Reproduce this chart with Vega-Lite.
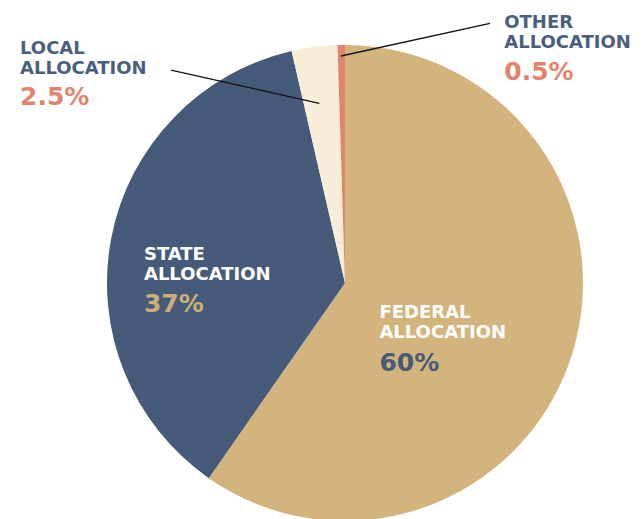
{
  "$schema": "https://vega.github.io/schema/vega-lite/v6.json",
  "width": 476,
  "height": 472,
  "autosize": "none",
  "padding": {"left": 107, "top": 47, "right": 59, "bottom": 0},
  "background": "white",
  "config": {"view": {"stroke": null}},
  "datasets": {
    "alloc": [
      {"cat": "Federal", "idx": 1, "value": 59.7, "name": "FEDERAL\nALLOCATION", "pct": "60%"},
      {"cat": "State", "idx": 2, "value": 36.7, "name": "STATE\nALLOCATION", "pct": "37%"},
      {"cat": "Local", "idx": 3, "value": 3.1, "name": "LOCAL\nALLOCATION", "pct": "2.5%"},
      {"cat": "Other", "idx": 4, "value": 0.5, "name": "OTHER\nALLOCATION", "pct": "0.5%"}
    ],
    "dummy": [{"k": 1}]
  },
  "layer": [
    {
      "data": {"name": "alloc"},
      "encoding": {
        "theta": {"field": "value", "type": "quantitative", "stack": true},
        "order": {"field": "idx", "type": "quantitative"}
      },
      "layer": [
        {
          "mark": {"type": "arc", "outerRadius": 238},
          "encoding": {
            "color": {
              "field": "cat", "type": "nominal", "legend": null,
              "scale": {"domain": ["Federal", "State", "Local", "Other"], "range": ["#D3B47D", "#465B79", "#F7EDD8", "#E2846C"]}
            }
          }
        },
        {
          "mark": {"type": "text", "radius": 100, "dx": -61, "dy": 5.3, "align": "left", "baseline": "alphabetic", "font": "DejaVu Sans", "fontWeight": "bold", "fontSize": 18, "lineBreak": "\n", "lineHeight": 20, "color": "#FFFFFF"},
          "encoding": {"text": {"condition": {"test": "datum.cat === 'Federal'", "field": "name", "type": "nominal"}, "value": ""}}
        },
        {
          "mark": {"type": "text", "radius": 100, "dx": -61, "dy": 58, "align": "left", "baseline": "alphabetic", "font": "DejaVu Sans", "fontWeight": "bold", "fontSize": 25, "color": "#465B79"},
          "encoding": {"text": {"condition": {"test": "datum.cat === 'Federal'", "field": "pct", "type": "nominal"}, "value": ""}}
        },
        {
          "mark": {"type": "text", "radius": 140, "dx": -63.6, "dy": 3.7, "align": "left", "baseline": "alphabetic", "font": "DejaVu Sans", "fontWeight": "bold", "fontSize": 18, "lineBreak": "\n", "lineHeight": 20, "color": "#FFFFFF"},
          "encoding": {"text": {"condition": {"test": "datum.cat === 'State'", "field": "name", "type": "nominal"}, "value": ""}}
        },
        {
          "mark": {"type": "text", "radius": 140, "dx": -63.6, "dy": 55.4, "align": "left", "baseline": "alphabetic", "font": "DejaVu Sans", "fontWeight": "bold", "fontSize": 25, "color": "#CDAE74"},
          "encoding": {"text": {"condition": {"test": "datum.cat === 'State'", "field": "pct", "type": "nominal"}, "value": ""}}
        },
        {
          "mark": {"type": "text", "radius": 238, "dx": -294.4, "dy": 7, "align": "left", "baseline": "alphabetic", "font": "DejaVu Sans", "fontWeight": "bold", "fontSize": 18, "lineBreak": "\n", "lineHeight": 20, "color": "#4A5F7E"},
          "encoding": {"text": {"condition": {"test": "datum.cat === 'Local'", "field": "name", "type": "nominal"}, "value": ""}}
        },
        {
          "mark": {"type": "text", "radius": 238, "dx": -294.4, "dy": 58, "align": "left", "baseline": "alphabetic", "font": "DejaVu Sans", "fontWeight": "bold", "fontSize": 25, "color": "#E2846C"},
          "encoding": {"text": {"condition": {"test": "datum.cat === 'Local'", "field": "pct", "type": "nominal"}, "value": ""}}
        },
        {
          "mark": {"type": "text", "radius": 238, "dx": 163, "dy": -16.7, "align": "left", "baseline": "alphabetic", "font": "DejaVu Sans", "fontWeight": "bold", "fontSize": 18, "lineBreak": "\n", "lineHeight": 20, "color": "#4A5F7E"},
          "encoding": {"text": {"condition": {"test": "datum.cat === 'Other'", "field": "name", "type": "nominal"}, "value": ""}}
        },
        {
          "mark": {"type": "text", "radius": 238, "dx": 163, "dy": 35, "align": "left", "baseline": "alphabetic", "font": "DejaVu Sans", "fontWeight": "bold", "fontSize": 25, "color": "#E2846C"},
          "encoding": {"text": {"condition": {"test": "datum.cat === 'Other'", "field": "pct", "type": "nominal"}, "value": ""}}
        }
      ]
    },
    {
      "data": {"name": "dummy"},
      "mark": {"type": "rule", "color": "#111111", "strokeWidth": 1.3},
      "encoding": {
        "x": {"datum": -0.731, "type": "quantitative", "scale": {"domain": [-1, 1], "nice": false, "zero": false}, "axis": null},
        "y": {"datum": 0.9025, "type": "quantitative", "scale": {"domain": [-1, 1], "nice": false, "zero": false}, "axis": null},
        "x2": {"datum": -0.108},
        "y2": {"datum": 0.7614}
      }
    },
    {
      "data": {"name": "dummy"},
      "mark": {"type": "rule", "color": "#111111", "strokeWidth": 1.3},
      "encoding": {
        "x": {"datum": 0.6092, "type": "quantitative", "scale": {"domain": [-1, 1], "nice": false, "zero": false}, "axis": null},
        "y": {"datum": 1.1004, "type": "quantitative", "scale": {"domain": [-1, 1], "nice": false, "zero": false}, "axis": null},
        "x2": {"datum": -0.0168},
        "y2": {"datum": 0.9619}
      }
    }
  ]
}
